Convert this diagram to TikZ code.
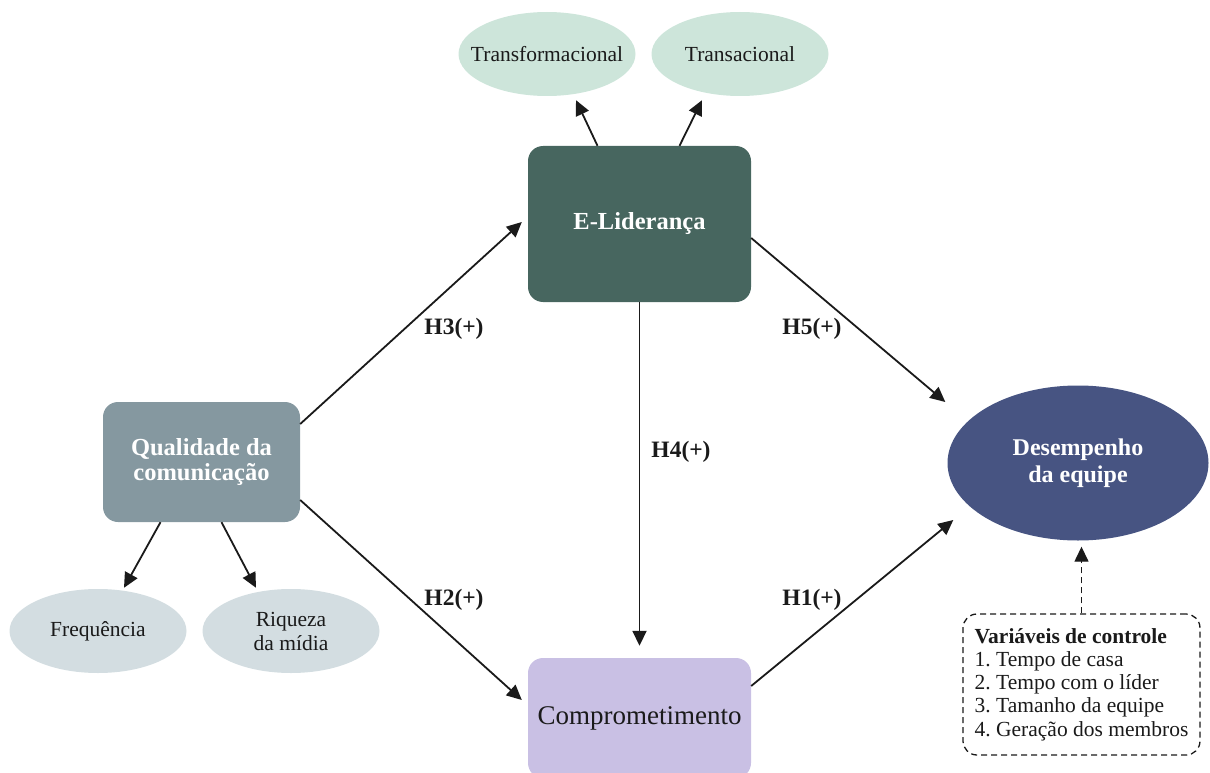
\documentclass[tikz,border=0pt]{standalone}
\usepackage{fontspec}
\setmainfont{Liberation Serif}
\usetikzlibrary{shapes.geometric,arrows.meta,calc}
\definecolor{mint}{HTML}{CDE5DA}
\definecolor{greyblue}{HTML}{D3DDE1}
\definecolor{leadgreen}{HTML}{47665F}
\definecolor{qualgrey}{HTML}{8598A0}
\definecolor{lilac}{HTML}{C9C0E4}
\definecolor{navy}{HTML}{475482}
\definecolor{ink}{HTML}{1A1A1A}
\frenchspacing
\begin{document}
\begin{tikzpicture}[x=1pt,y=-1pt,
  ell/.style={ellipse, minimum width=177pt, minimum height=84pt, inner xsep=-21pt, inner ysep=0pt,
    text=ink, align=center, font=\fontsize{21.5}{24}\selectfont},
  box/.style={rounded corners=15pt, inner sep=0pt, align=center},
  arr/.style={-{Triangle[length=15pt,width=14pt]}, line width=1.8pt, draw=ink},
  hlab/.style={font=\bfseries\fontsize{23.5}{26}\selectfont, text=ink}]
\useasboundingbox (0,0) rectangle (1210,773);

% nodes
\node[ell, fill=mint] (transf) at (547,54) {Transformacional};
\node[ell, fill=mint] (transac) at (740,54) {Transacional};
\node[box, fill=leadgreen, minimum width=223pt, minimum height=156pt, text=white,
  font=\bfseries\fontsize{24.5}{27}\selectfont] (elid) at (639.5,224) {E-Liderança};
\node[box, fill=qualgrey, minimum width=197pt, minimum height=120pt, text=white,
  font=\bfseries\fontsize{24.5}{25.5}\selectfont] (qual) at (201.5,462) {Qualidade da\\comunicação};
\node[ell, fill=greyblue] (freq) at (98,631) {Frequência};
\node[ell, fill=greyblue] (riq) at (291,631) {Riqueza\\da mídia};
\node[box, fill=lilac, minimum width=223pt, minimum height=120pt, text=ink,
  font=\fontsize{27}{30}\selectfont] (comp) at (639.5,718) {Comprometimento};
\node[ellipse, fill=navy, minimum width=261pt, minimum height=155pt, inner sep=0pt,
  text=white, align=center, font=\bfseries\fontsize{24}{27}\selectfont] (desemp) at (1078,463) {Desempenho\\da equipe};
\node[draw=ink, dashed, dash pattern=on 6pt off 4pt, line width=1.3pt, rounded corners=14pt,
  minimum width=237pt, minimum height=141pt, inner sep=0pt, align=left, text=ink,
  font=\fontsize{21.5}{23.3}\selectfont] (ctrl) at (1081.5,684.5)
  {\textbf{Variáveis de controle}\\1. Tempo de casa\\2. Tempo com o líder\\3. Tamanho da equipe\\4. Geração dos membros};

% connectors
\draw[arr] ([xshift=-42pt]elid.north) -- ([xshift=29pt,yshift=-4pt]transf.south);
\draw[arr] ([xshift=40pt]elid.north) -- ([xshift=-38pt,yshift=-4pt]transac.south);
\draw[arr] ([yshift=38pt]qual.east) -- ([xshift=-6pt,yshift=2pt]elid.west);
\draw[arr] ([yshift=-38pt]qual.east) -- ([xshift=-6pt,yshift=18pt]comp.west);
\draw[arr] (elid.south) -- ([yshift=12pt]comp.north);
\draw[arr] ([yshift=-14pt]elid.east) -- ([xshift=-2pt,yshift=61pt]desemp.west);
\draw[arr] ([yshift=32pt]comp.east) -- ([xshift=6pt,yshift=-57pt]desemp.west);
\draw[arr] ([xshift=-41pt]qual.south) -- ([xshift=26pt,yshift=1pt]freq.north);
\draw[arr] ([xshift=20pt]qual.south) -- ([xshift=-35pt,yshift=1pt]riq.north);
\draw[arr, line width=1.4pt, dash pattern=on 6pt off 4pt] (ctrl.north) -- ($(ctrl.north |- desemp.south)+(0,-6pt)$);

% labels
\node[hlab] (h3) at (454,329) {H3(+)};
\node[hlab] (h5) at (812,329) {H5(+)};
\node[hlab] (h4) at (681,452) {H4(+)};
\node[hlab] (h2) at (454,600) {H2(+)};
\node[hlab] (h1) at (812,600) {H1(+)};
\end{tikzpicture}
\end{document}
